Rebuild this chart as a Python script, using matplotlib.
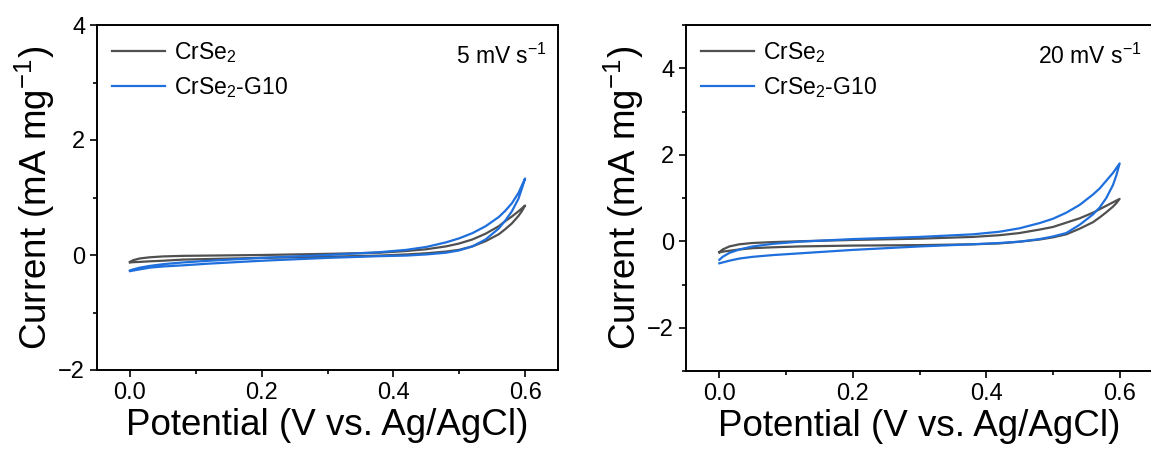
import matplotlib
matplotlib.use("Agg")
import numpy as np
import matplotlib.pyplot as plt
from matplotlib.ticker import MultipleLocator

plt.rcParams["font.family"] = ["Liberation Sans", "DejaVu Sans"]
plt.rcParams["mathtext.fontset"] = "custom"
plt.rcParams["mathtext.rm"] = "Liberation Sans"
plt.rcParams["mathtext.it"] = "Liberation Sans:italic"

GRAY = "#505050"
BLUE = "#1f6fdc"

# potential grids (V vs Ag/AgCl), forward sweep 0 -> 0.6 and reverse 0.6 -> 0
e_fwd = [0.0, 0.005, 0.015, 0.03, 0.05, 0.08, 0.12, 0.2, 0.3, 0.38, 0.42,
         0.45, 0.48, 0.5, 0.52, 0.54, 0.56, 0.57, 0.58, 0.59, 0.6]
e_rev = [0.6, 0.595, 0.59, 0.58, 0.57, 0.56, 0.54, 0.52, 0.5, 0.48, 0.45,
         0.42, 0.38, 0.3, 0.2, 0.12, 0.08, 0.05, 0.03, 0.015, 0.005, 0.0]

# ---- 5 mV/s ----
crse2_fwd_5 = [-0.12, -0.09, -0.06, -0.04, -0.025, -0.015, -0.01, 0.0, 0.02, 0.04, 0.07,
               0.1, 0.15, 0.2, 0.27, 0.37, 0.5, 0.59, 0.67, 0.76, 0.86]
crse2_rev_5 = [0.86, 0.76, 0.68, 0.55, 0.45, 0.36, 0.24, 0.15, 0.09, 0.06, 0.03,
               0.01, -0.01, -0.03, -0.05, -0.07, -0.08, -0.1, -0.11, -0.12, -0.125, -0.13]
g10_fwd_5 = [-0.27, -0.25, -0.22, -0.19, -0.16, -0.13, -0.1, -0.05, 0.0, 0.05, 0.09,
             0.14, 0.22, 0.29, 0.38, 0.5, 0.66, 0.77, 0.9, 1.08, 1.33]
g10_rev_5 = [1.33, 1.15, 0.98, 0.76, 0.6, 0.46, 0.27, 0.15, 0.08, 0.04, 0.01,
             -0.01, -0.02, -0.05, -0.1, -0.15, -0.18, -0.2, -0.22, -0.25, -0.27, -0.28]

# ---- 20 mV/s ----
crse2_fwd_20 = [-0.25, -0.19, -0.12, -0.07, -0.04, -0.02, 0.0, 0.03, 0.06, 0.1, 0.14,
                0.19, 0.27, 0.33, 0.43, 0.53, 0.66, 0.74, 0.82, 0.9, 0.98]
crse2_rev_20 = [0.98, 0.88, 0.8, 0.67, 0.55, 0.44, 0.29, 0.16, 0.09, 0.04, -0.01,
                -0.05, -0.07, -0.09, -0.1, -0.12, -0.14, -0.16, -0.19, -0.22, -0.24, -0.26]
g10_fwd_20 = [-0.43, -0.36, -0.27, -0.19, -0.12, -0.06, -0.01, 0.05, 0.1, 0.16, 0.22,
              0.3, 0.42, 0.52, 0.66, 0.84, 1.08, 1.22, 1.4, 1.58, 1.8]
g10_rev_20 = [1.8, 1.52, 1.3, 1.0, 0.78, 0.62, 0.38, 0.19, 0.11, 0.05, -0.01,
              -0.04, -0.07, -0.12, -0.2, -0.28, -0.32, -0.36, -0.4, -0.45, -0.49, -0.51]

panels = [
    dict(rect=[97 / 1151, 85 / 455, 461 / 1151, 345 / 455], ylim=(-2, 4), rate="5 mV s$^{\\mathregular{-1}}$",
         c=(crse2_fwd_5, crse2_rev_5), g=(g10_fwd_5, g10_rev_5)),
    dict(rect=[686 / 1151, 84 / 455, 467 / 1151, 346 / 455], ylim=(-3, 5), rate="20 mV s$^{\\mathregular{-1}}$",
         c=(crse2_fwd_20, crse2_rev_20), g=(g10_fwd_20, g10_rev_20)),
]

fig = plt.figure(figsize=(11.51, 4.55), dpi=100)

for p in panels:
    ax = fig.add_axes(p["rect"])
    ax.plot(e_fwd + e_rev, p["c"][0] + p["c"][1], color=GRAY, lw=1.6, label="CrSe$_\\mathregular{2}$")
    ax.plot(e_fwd + e_rev, p["g"][0] + p["g"][1], color=BLUE, lw=1.6, label="CrSe$_\\mathregular{2}$-G10")
    ax.set_xlim(-0.05, 0.65)
    ax.set_ylim(*p["ylim"])
    ax.xaxis.set_major_locator(MultipleLocator(0.2))
    ax.xaxis.set_minor_locator(MultipleLocator(0.1))
    ax.yaxis.set_major_locator(MultipleLocator(2))
    ax.yaxis.set_minor_locator(MultipleLocator(1))
    ax.tick_params(which="major", direction="out", length=5, width=1.2, labelsize=17)
    ax.tick_params(which="minor", direction="out", length=3, width=1.2)
    for s in ax.spines.values():
        s.set_linewidth(1.4)
    ax.set_xlabel("Potential (V vs. Ag/AgCl)", fontsize=26.5, labelpad=3)
    ax.set_ylabel("Current (mA mg$^{\\mathregular{-1}}$)", fontsize=26.5, labelpad=1)
    ax.legend(loc="upper left", frameon=False, fontsize=16.5, handlelength=2.3,
              handletextpad=0.4, labelspacing=0.45, borderaxespad=0.25)
    ax.text(0.975, 0.945, p["rate"], transform=ax.transAxes, ha="right", va="top", fontsize=16.5)

fig.savefig("out.png", dpi=100)
